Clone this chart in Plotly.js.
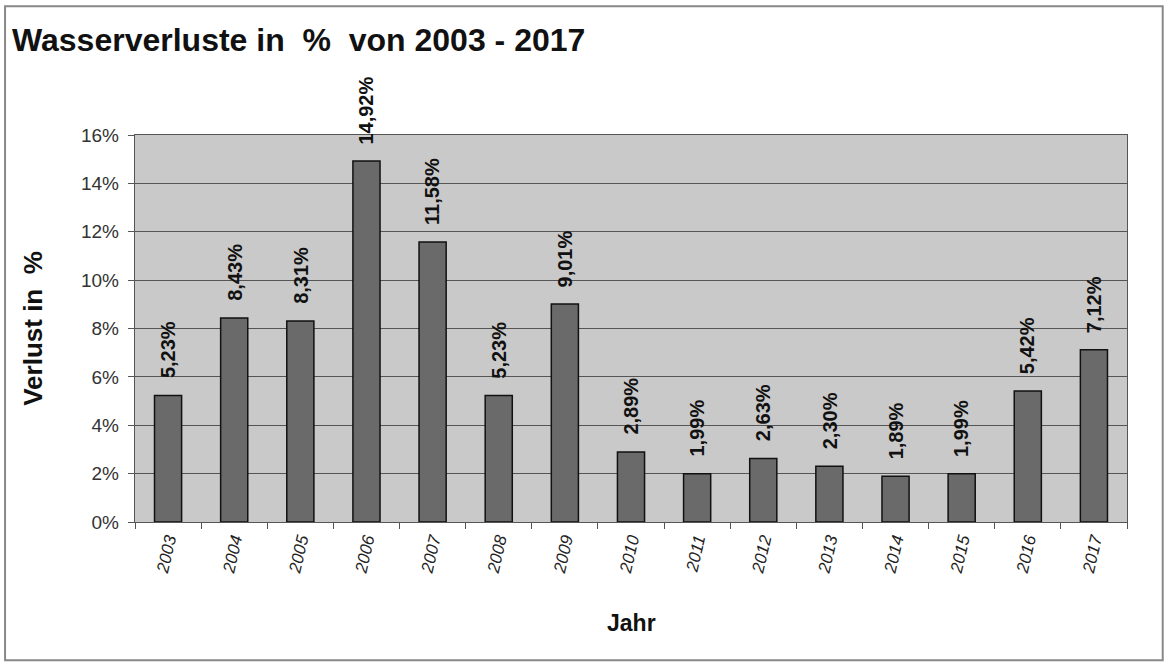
<!DOCTYPE html>
<html>
<head>
<meta charset="utf-8">
<script src="https://cdn.plot.ly/plotly-3.0.1.min.js"></script>
<style>html,body{margin:0;padding:0;background:#fff;}#chart{width:1165px;height:662px;}</style>
</head>
<body>
<div id="chart"></div>
<script>
const years = ['2003','2004','2005','2006','2007','2008','2009','2010','2011','2012','2013','2014','2015','2016','2017'];
const verlust = [5.23, 8.43, 8.31, 14.92, 11.58, 5.23, 9.01, 2.89, 1.99, 2.63, 2.30, 1.89, 1.99, 5.42, 7.12];
const yTicks = [0, 2, 4, 6, 8, 10, 12, 14, 16];
const yTickLabels = ['0%', '2%', '4%', '6%', '8%', '10%', '12%', '14%', '16%'];

const labels = verlust.map(v => v.toFixed(2).replace('.', ',') + '%');
const font = 'Liberation Sans, Arial, sans-serif';

const trace = {
  type: 'bar',
  x: years,
  y: verlust,
  width: 0.41,
  marker: {color: '#6a6a6a', line: {color: '#111', width: 1.5}},
  hoverinfo: 'skip'
};

const annotations = years.map((yr, i) => ({
  x: i, y: verlust[i], xref: 'x', yref: 'y',
  text: labels[i], showarrow: false, textangle: -90,
  xanchor: 'center', yanchor: 'bottom', yshift: 15,
  font: {family: font, size: 20, color: '#111', weight: 'bold'}
}));

annotations.push({
  xref: 'paper', yref: 'paper', x: 0.5, y: 0, yshift: -116, xanchor: 'center', yanchor: 'bottom',
  text: 'Jahr', showarrow: false, font: {family: font, size: 23, color: '#111', weight: 'bold'}
});

const layout = {
  width: 1165, height: 662,
  margin: {l: 135, r: 38, t: 135, b: 140},
  paper_bgcolor: '#ffffff',
  plot_bgcolor: '#c9c9c9',
  showlegend: false,
  title: {
    text: 'Wasserverluste in\u00a0 %\u00a0 von 2003 - 2017',
    x: 12 / 1165, xref: 'container', xanchor: 'left',
    y: 0.94, yref: 'container', yanchor: 'middle',
    font: {family: font, size: 32, color: '#111', weight: 'bold'}
  },
  xaxis: {
    type: 'category',
    range: [-0.5, 14.5],
    tickangle: -77,
    tickfont: {family: font, size: 17, color: '#222', style: 'italic'},
    ticks: 'outside', tickson: 'boundaries', ticklen: 6, tickcolor: '#555',
    showline: true, linecolor: '#555', linewidth: 1, mirror: true,
    showgrid: false
  },
  yaxis: {
    range: [0, 16],
    tickmode: 'array',
    tickvals: yTicks,
    ticktext: yTickLabels.map(t => t + '\u00a0'),
    tickfont: {family: font, size: 19, color: '#333'},
    ticks: 'outside', ticklen: 6, tickcolor: '#555',
    showline: true, linecolor: '#555', linewidth: 1, mirror: true,
    gridcolor: '#555', gridwidth: 1,
    zeroline: false,
    title: {text: 'Verlust in\u00a0 %', standoff: 30, font: {family: font, size: 26, color: '#111', weight: 'bold'}}
  },
  annotations: annotations,
  shapes: [{
    type: 'rect', xref: 'paper', yref: 'paper',
    x0: -0.131, x1: 1.036, y0: -0.357, y1: 1.333,
    line: {color: '#888', width: 2}, fillcolor: 'rgba(0,0,0,0)', layer: 'below'
  }]
};

Plotly.newPlot('chart', [trace], layout, {displayModeBar: false, staticPlot: true});
</script>
</body>
</html>
